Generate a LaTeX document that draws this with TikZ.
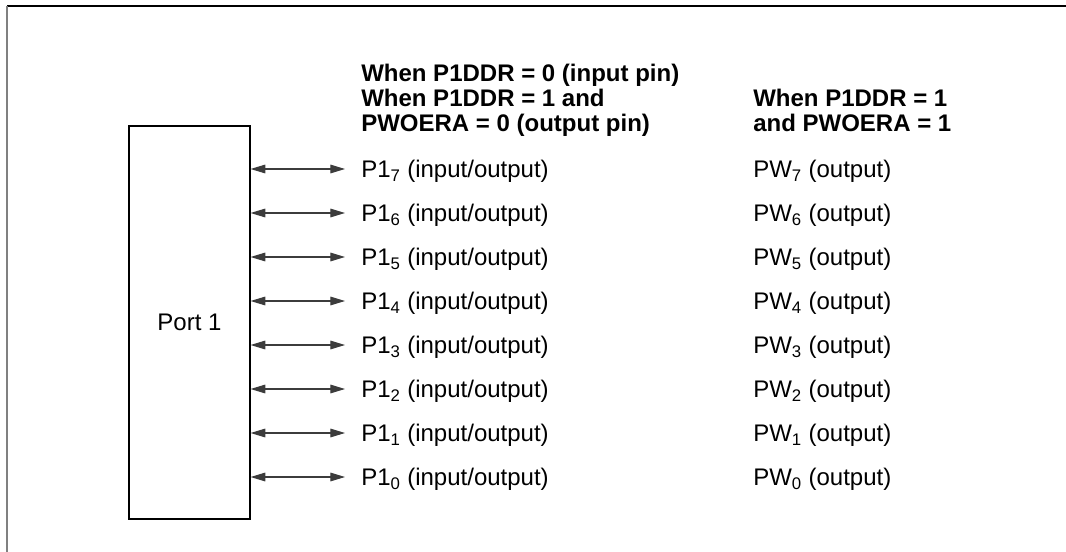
\documentclass[tikz,border=0pt]{standalone}
\usepackage{fontspec}
\setmainfont{Liberation Sans}
\usepackage{tikz}
\usetikzlibrary{arrows.meta,positioning}
\definecolor{framegray}{RGB}{128,128,128}
\definecolor{wiregray}{RGB}{60,60,60}

\begin{document}
\begin{tikzpicture}[
    x=0.75pt, y=-0.75pt,
    port/.style={rectangle, draw, line width=0.9pt, minimum width=90.75pt, minimum height=294.75pt, inner sep=0pt, font=\fontsize{18pt}{21pt}\selectfont},
    pin/.style={anchor=west, inner xsep=12pt, inner ysep=0pt, text height=13pt, text depth=0pt, font=\fontsize{18pt}{21pt}\selectfont},
    head/.style={anchor=north west, inner sep=0pt, align=left, font=\fontsize{18pt}{18.6pt}\selectfont\bfseries},
    arrow/.style={{Triangle[length=11pt,width=6.5pt]}-{Triangle[length=11pt,width=6.5pt]}, line width=0.8pt, wiregray}
  ]
    \useasboundingbox (0,0) rectangle (1066,552);
    \draw[line width=1.2pt] (7,6) -- (1066,6);
    \draw[line width=1.2pt, framegray] (7,6) -- (7,552);

    \node[port] (port) at (189.5,322.5) {Port 1};

    \node[head] (hleft) at (361,64) {When P1DDR = 0 (input pin)\\When P1DDR = 1 and\\PWOERA = 0 (output pin)};
    \node[head] (hright) at (753,88.8) {When P1DDR = 1\\and PWOERA = 1};

    \node[pin] (p7) at (345,169) {P1\textsubscript{7} (input/output)};
    \node[pin] (p6) at (345,213) {P1\textsubscript{6} (input/output)};
    \node[pin] (p5) at (345,257) {P1\textsubscript{5} (input/output)};
    \node[pin] (p4) at (345,301) {P1\textsubscript{4} (input/output)};
    \node[pin] (p3) at (345,345) {P1\textsubscript{3} (input/output)};
    \node[pin] (p2) at (345,389) {P1\textsubscript{2} (input/output)};
    \node[pin] (p1) at (345,433) {P1\textsubscript{1} (input/output)};
    \node[pin] (p0) at (345,477) {P1\textsubscript{0} (input/output)};

    \node[pin] (w7) at (737,169) {PW\textsubscript{7} (output)};
    \node[pin] (w6) at (737,213) {PW\textsubscript{6} (output)};
    \node[pin] (w5) at (737,257) {PW\textsubscript{5} (output)};
    \node[pin] (w4) at (737,301) {PW\textsubscript{4} (output)};
    \node[pin] (w3) at (737,345) {PW\textsubscript{3} (output)};
    \node[pin] (w2) at (737,389) {PW\textsubscript{2} (output)};
    \node[pin] (w1) at (737,433) {PW\textsubscript{1} (output)};
    \node[pin] (w0) at (737,477) {PW\textsubscript{0} (output)};

    \draw[arrow] (port.east |- p7.west) -- (p7.west);
    \draw[arrow] (port.east |- p6.west) -- (p6.west);
    \draw[arrow] (port.east |- p5.west) -- (p5.west);
    \draw[arrow] (port.east |- p4.west) -- (p4.west);
    \draw[arrow] (port.east |- p3.west) -- (p3.west);
    \draw[arrow] (port.east |- p2.west) -- (p2.west);
    \draw[arrow] (port.east |- p1.west) -- (p1.west);
    \draw[arrow] (port.east |- p0.west) -- (p0.west);
  \end{tikzpicture}
\end{document}
